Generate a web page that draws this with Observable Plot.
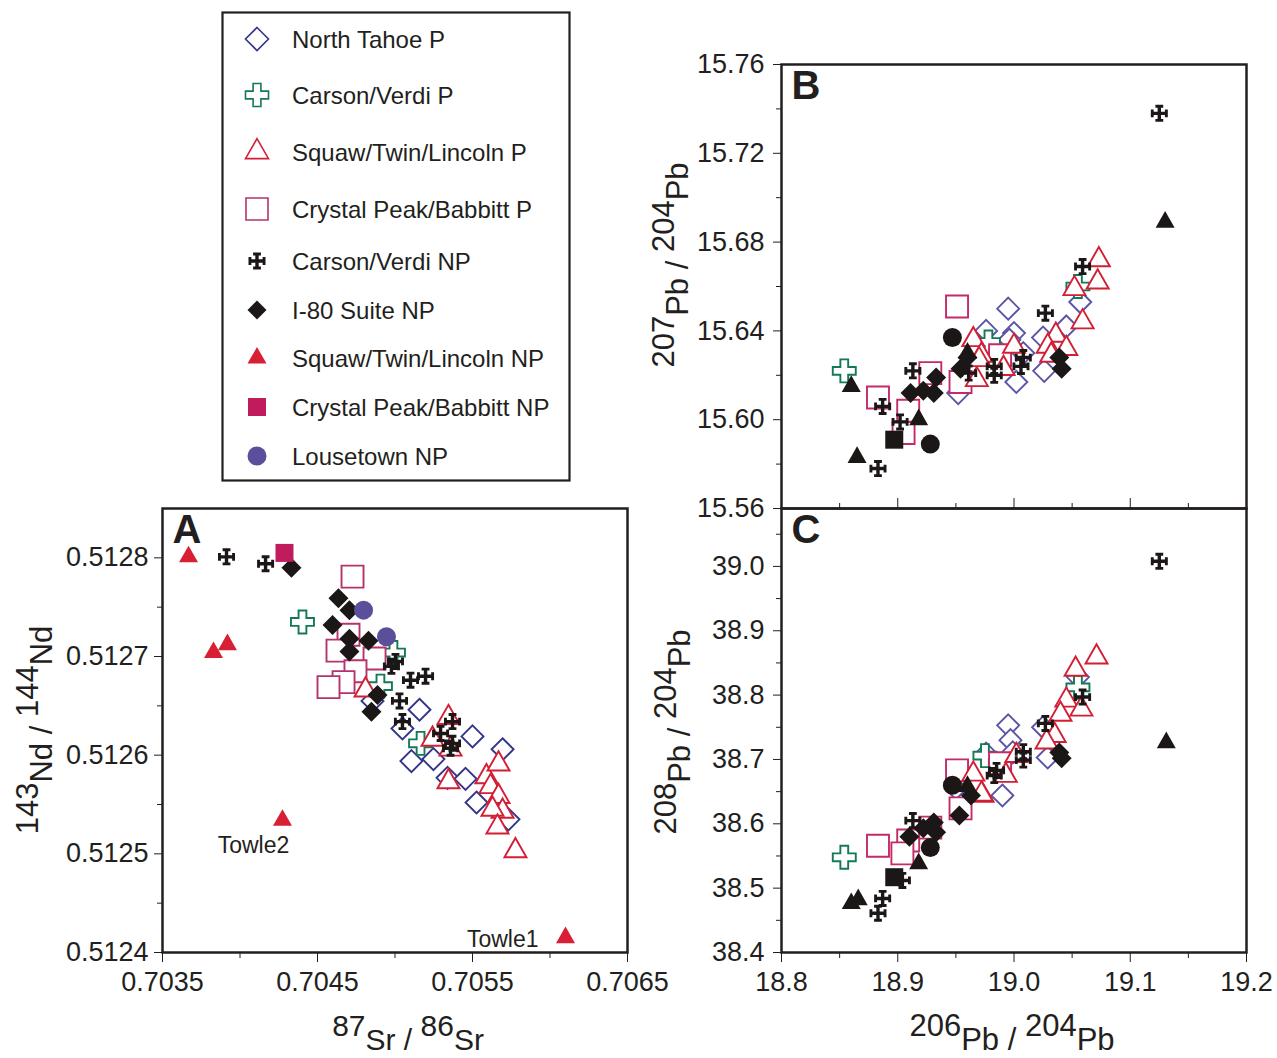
<!DOCTYPE html>
<html><head><meta charset="utf-8">
<script src="https://cdn.jsdelivr.net/npm/d3@7"></script>
<script src="https://cdn.jsdelivr.net/npm/@observablehq/plot@0.6"></script>
<style>
body{margin:0;background:#fff;}
#wrap{position:relative;width:1277px;height:1058px;font-family:"Liberation Sans",Arial,sans-serif;color:#231f20;}
#wrap svg{position:absolute;left:0;top:0;}
</style></head><body><div id="wrap"></div>
<script>
// ---------------- DATA ----------------
const seriesNames = ["North Tahoe P","Carson/Verdi P","Squaw/Twin/Lincoln P","Crystal Peak/Babbitt P","Carson/Verdi NP","I-80 Suite NP","Squaw/Twin/Lincoln NP","Crystal Peak/Babbitt NP","Lousetown NP"];

// Panel A: [87Sr/86Sr, 143Nd/144Nd]
const northTahoeP_A = [[0.704855,0.512655],[0.705158,0.512646],[0.705048,0.512627],[0.705106,0.512594],[0.705248,0.512596],[0.7055,0.512619],[0.705694,0.512606],[0.705339,0.512577],[0.705455,0.512576],[0.705526,0.512552],[0.705732,0.512535]];
const carsonVerdiP_A = [[0.704403,0.512735],[0.70499,0.512704],[0.704906,0.51267],[0.705165,0.512612]];
const squawP_A = [[0.70481,0.512666],[0.705345,0.512638],[0.705242,0.512616],[0.705358,0.512606],[0.705345,0.512573],[0.70559,0.512578],[0.705668,0.512591],[0.705616,0.512568],[0.705668,0.512558],[0.705694,0.512543],[0.705629,0.512545],[0.705661,0.512527],[0.705777,0.512503]];
const crystalPeakP_A = [[0.704726,0.512781],[0.7047,0.512722],[0.704629,0.512706],[0.704868,0.512698],[0.704745,0.512685],[0.704668,0.512674],[0.704571,0.512669]];
const carsonVerdiNP_A = [[0.703913,0.512801],[0.704165,0.512794],[0.705003,0.512695],[0.704977,0.51269],[0.7051,0.512676],[0.705197,0.51268],[0.705029,0.512655],[0.705048,0.512634],[0.705294,0.512622],[0.705371,0.512634],[0.705371,0.512612],[0.705358,0.512607]];
const i80NP_A = [[0.704332,0.51279],[0.704635,0.512759],[0.704706,0.512747],[0.704597,0.512732],[0.704706,0.512718],[0.704829,0.512716],[0.704706,0.512705],[0.704887,0.512661],[0.704848,0.512644]];
const squawNP_A = [[0.703668,0.512801],[0.703829,0.512704],[0.703919,0.512712],[0.704274,0.512534],[0.7061,0.512415]];
const crystalPeakNP_A = [[0.704287,0.512805]];
const lousetownNP_A = [[0.704797,0.512747],[0.704945,0.51272]];

// Panel B: [206Pb/204Pb, 207Pb/204Pb]
const northTahoeP_B = [[18.995,15.650],[18.976,15.640],[19.000,15.639],[18.996,15.636],[19.002,15.617],[19.025,15.637],[19.026,15.622],[19.057,15.653],[19.045,15.642],[18.952,15.612],[19.008,15.630]];
const carsonVerdiP_B = [[18.854,15.622],[18.978,15.635],[19.055,15.660]];
const squawP_B = [[18.965,15.636],[18.972,15.629],[18.968,15.618],[19.073,15.672],[19.072,15.662],[19.052,15.659],[19.059,15.644],[19.036,15.638],[19.029,15.633],[19.045,15.632],[19.032,15.629],[19.000,15.633],[18.991,15.623],[18.970,15.627]];
const crystalPeakP_B = [[18.883,15.610],[18.928,15.621],[18.909,15.604],[18.905,15.594],[18.951,15.651],[18.988,15.629],[18.954,15.617]];
const carsonVerdiNP_B = [[18.887,15.606],[18.913,15.622],[18.902,15.599],[18.883,15.578],[18.961,15.621],[18.983,15.624],[18.983,15.620],[19.006,15.624],[19.008,15.628],[19.027,15.648],[19.059,15.669],[19.125,15.738]];
const i80NP_B = [[18.911,15.612],[18.922,15.613],[18.931,15.612],[18.933,15.619],[18.960,15.628],[18.954,15.623],[19.039,15.628],[19.041,15.623]];
const squawNP_B = [[18.860,15.615],[18.865,15.583],[18.918,15.600],[18.960,15.630],[19.130,15.689]];
const crystalPeakNP_B = [[18.897,15.591]];
const lousetownNP_B = [[18.947,15.637],[18.928,15.589]];

// Panel C: [206Pb/204Pb, 208Pb/204Pb]
const northTahoeP_C = [[18.995,38.753],[18.997,38.730],[18.990,38.644],[18.976,38.709],[19.055,38.828],[19.025,38.750],[19.029,38.703],[18.999,38.711],[18.950,38.655]];
const carsonVerdiP_C = [[18.854,38.548],[18.975,38.706],[19.055,38.812]];
const squawP_C = [[18.965,38.677],[18.973,38.644],[19.071,38.859],[19.053,38.840],[19.045,38.792],[19.058,38.778],[19.040,38.770],[19.035,38.737],[19.028,38.727],[19.002,38.706],[18.993,38.675],[18.972,38.646]];
const crystalPeakP_C = [[18.883,38.566],[18.909,38.574],[18.904,38.554],[18.928,38.594],[18.951,38.683],[18.954,38.624],[18.988,38.694]];
const carsonVerdiNP_C = [[18.887,38.484],[18.913,38.605],[18.904,38.512],[18.883,38.461],[18.983,38.675],[18.985,38.683],[19.008,38.699],[19.008,38.712],[19.027,38.756],[19.059,38.797],[19.125,39.008]];
const i80NP_C = [[18.910,38.580],[18.922,38.593],[18.931,38.602],[18.933,38.587],[18.953,38.613],[18.963,38.644],[19.039,38.711],[19.041,38.702]];
const squawNP_C = [[18.860,38.476],[18.866,38.482],[18.918,38.538],[18.960,38.658],[19.131,38.726]];
const crystalPeakNP_C = [[18.897,38.517]];
const lousetownNP_C = [[18.928,38.563],[18.947,38.660]];

// tick values
const xTicksA = [0.7035,0.7045,0.7055,0.7065];
const xMinorA = [0.704,0.705,0.706];
const yTicksA = [0.5124,0.5125,0.5126,0.5127,0.5128];
const yMinorA = [0.51245,0.51255,0.51265,0.51275];
const xTicksPb = [18.8,18.9,19.0,19.1,19.2];
const xMinorPb = [18.85,18.95,19.05,19.15];
const yTicksB = [15.56,15.60,15.64,15.68,15.72,15.76];
const yMinorB = [15.58,15.62,15.66,15.70,15.74];
const yTicksC = [38.4,38.5,38.6,38.7,38.8,38.9,39.0];
const yMinorC = [38.45,38.55,38.65,38.75,38.85,38.95,39.05];

const towleNames = ["Towle2","Towle1"];
const towleIndex = [3,4]; // indices in squawNP_A

// ---------------- SYMBOLS ----------------
function sym(f){ return {draw(ctx,size){ f(ctx, Math.sqrt(size/Math.PI)); }}; }
const diamondSym = sym((c,r)=>{c.moveTo(0,-r);c.lineTo(r,0);c.lineTo(0,r);c.lineTo(-r,0);c.closePath();});
const squareSym = sym((c,r)=>{c.moveTo(-r,-r);c.lineTo(r,-r);c.lineTo(r,r);c.lineTo(-r,r);c.closePath();});
const triSym = sym((c,r)=>{c.moveTo(0,-1.17*r);c.lineTo(r,0.58*r);c.lineTo(-r,0.58*r);c.closePath();});
const circleSym = sym((c,r)=>{c.moveTo(r,0);c.arc(0,0,r,0,2*Math.PI);c.closePath();});
const plusSym = sym((c,r)=>{const a=r*0.34;
  c.moveTo(-a,-r);c.lineTo(a,-r);c.lineTo(a,-a);c.lineTo(r,-a);c.lineTo(r,a);c.lineTo(a,a);
  c.lineTo(a,r);c.lineTo(-a,r);c.lineTo(-a,a);c.lineTo(-r,a);c.lineTo(-r,-a);c.lineTo(-a,-a);c.closePath();});
function rectCW(c,x,y,w,h){c.moveTo(x,y);c.lineTo(x+w,y);c.lineTo(x+w,y+h);c.lineTo(x,y+h);c.closePath();}
const potentSym = sym((c,r)=>{const t=r*0.2,b=r*0.46,k=r*0.34;
  rectCW(c,-t,-r,2*t,2*r); rectCW(c,-r,-t,2*r,2*t);
  rectCW(c,-b,-r,2*b,k); rectCW(c,-b,r-k,2*b,k); rectCW(c,-r,-b,k,2*b); rectCW(c,r-k,-b,k,2*b);});

const BLACK = "#1c1717";
const seriesList = [
  {name:seriesNames[0], symbol:diamondSym, hollow:true,  colorA:"#34358a", colorBC:"#5a55a6", r:11, rl:11.5, A:northTahoeP_A, B:northTahoeP_B, C:northTahoeP_C},
  {name:seriesNames[1], symbol:plusSym,    hollow:true,  colorA:"#137a55", colorBC:"#137a55", r:11.5, rl:11.5, A:carsonVerdiP_A, B:carsonVerdiP_B, C:carsonVerdiP_C},
  {name:seriesNames[3], symbol:squareSym,  hollow:true,  colorA:"#b5336c", colorBC:"#c42a6a", r:11, rl:11, A:crystalPeakP_A, B:crystalPeakP_B, C:crystalPeakP_C},
  {name:seriesNames[2], symbol:triSym,     hollow:true,  colorA:"#d21f35", colorBC:"#d21f35", r:11, rl:11.5, A:squawP_A, B:squawP_B, C:squawP_C},
  {name:seriesNames[4], symbol:potentSym,  hollow:false, colorA:BLACK, colorBC:BLACK, r:8.5, rl:8.5, A:carsonVerdiNP_A, B:carsonVerdiNP_B, C:carsonVerdiNP_C},
  {name:seriesNames[5], symbol:diamondSym, hollow:false, colorA:BLACK, colorBC:BLACK, r:10, rl:9.5, A:i80NP_A, B:i80NP_B, C:i80NP_C},
  {name:seriesNames[6], symbol:triSym,     hollow:false, colorA:"#d81f34", colorBC:BLACK, r:9.5, rl:9.5, A:squawNP_A, B:squawNP_B, C:squawNP_C},
  {name:seriesNames[7], symbol:squareSym,  hollow:false, colorA:"#c01b5d", colorBC:BLACK, r:9, rl:9, A:crystalPeakNP_A, B:crystalPeakNP_B, C:crystalPeakNP_C},
  {name:seriesNames[8], symbol:circleSym,  hollow:false, colorA:"#5a4f9a", colorBC:BLACK, r:9.5, rl:9.5, A:lousetownNP_A, B:lousetownNP_B, C:lousetownNP_C}
];

const FONT = '"Liberation Sans", Arial, Helvetica, sans-serif';
const INK = "#231f20";

function dotMarks(key){
  return seriesList.map(s=>{
    const col = key==="A" ? s.colorA : s.colorBC;
    return Plot.dot(s[key], {x:d=>d[0], y:d=>d[1], symbol:s.symbol, r:s.r,
      fill: s.hollow ? "white" : col, stroke: s.hollow ? col : "none", strokeWidth: s.hollow ? 1.9 : 0});
  });
}

function panel(cfg){
  const marks = [...dotMarks(cfg.key)];
  marks.push(Plot.axisY(cfg.yTicks, {anchor:"left", tickFormat:cfg.yFmt, tickSize:8, tickPadding:cfg.yPad, fontSize:27, label:null, stroke:INK, fill:INK}));
  marks.push(Plot.axisY(cfg.yMinor, {anchor:"left", tickSize:5, label:null, stroke:INK, fill:"none"}));
  if (cfg.xLabels) {
    marks.push(Plot.axisX(cfg.xTicks, {anchor:"bottom", tickFormat:cfg.xFmt, tickSize:10, tickPadding:9, fontSize:27, label:null, stroke:INK, fill:INK}));
    marks.push(Plot.axisX(cfg.xMinor, {anchor:"bottom", tickSize:6, label:null, stroke:INK, fill:"none"}));
  }
  if (cfg.topTicks) {
    marks.push(Plot.axisX(cfg.xTicks, {anchor:"top", tickSize:11, label:null, stroke:INK, fill:"none"}));
    marks.push(Plot.axisX(cfg.xMinor, {anchor:"top", tickSize:6, label:null, stroke:INK, fill:"none"}));
  }
  if (cfg.extra) marks.push(...cfg.extra);
  marks.push(Plot.text([cfg.letter], {frameAnchor:"top-left", text:d=>d, dx:10, dy:6, lineAnchor:"top", textAnchor:"start", fontSize:40, fontWeight:"bold", fill:INK}));
  marks.push(Plot.frame({stroke:INK, strokeWidth:2.5}));
  const svg = Plot.plot({
    width:1277, height:1058,
    marginLeft:cfg.m[0], marginTop:cfg.m[1], marginRight:1277-cfg.m[2], marginBottom:1058-cfg.m[3],
    x:{domain:cfg.xDomain, axis: cfg.xLabels || cfg.topTicks ? undefined : null},
    y:{domain:cfg.yDomain},
    style:{background:"transparent", fontFamily:FONT, fontSize:"27px", color:INK, overflow:"visible"},
    marks
  });
  svg.style.position = "absolute"; svg.style.left = "0px"; svg.style.top = "0px";
  return svg;
}

const wrap = document.getElementById("wrap");

const towleData = towleIndex.map((k,i)=>({x:squawNP_A[k][0], y:squawNP_A[k][1], label:towleNames[i]}));

wrap.appendChild(panel({key:"A", m:[162,508,627,952], xDomain:[0.7035,0.7065], yDomain:[0.5124,0.51285],
  xTicks:xTicksA, xMinor:xMinorA, yTicks:yTicksA, yMinor:yMinorA, xFmt:d3.format(".4f"), yFmt:d3.format(".4f"), yPad:6, xLabels:true, letter:"A",
  extra:[
    Plot.text(towleData.slice(0,1), {x:"x", y:"y", text:"label", dx:-29, dy:25, fontSize:23, fill:INK}),
    Plot.text(towleData.slice(1,2), {x:"x", y:"y", text:"label", dx:-27, dy:2, textAnchor:"end", fontSize:23, fill:INK})
  ]}));

wrap.appendChild(panel({key:"B", m:[781,64,1246,508], xDomain:[18.8,19.2], yDomain:[15.56,15.76],
  xTicks:xTicksPb, xMinor:xMinorPb, yTicks:yTicksB, yMinor:yMinorB, xFmt:d3.format(".1f"), yFmt:d3.format(".2f"), yPad:9, xLabels:false, letter:"B"}));

wrap.appendChild(panel({key:"C", m:[781,508,1246,952], xDomain:[18.8,19.2], yDomain:[38.4,39.09],
  xTicks:xTicksPb, xMinor:xMinorPb, yTicks:yTicksC, yMinor:yMinorC, xFmt:d3.format(".1f"), yFmt:d3.format(".1f"), yPad:9, xLabels:true, topTicks:true, letter:"C"}));

// ---------------- AXIS TITLES ----------------
const over = d3.select(wrap).append("svg").attr("width",1277).attr("height",1058).style("position","absolute").style("left","0px").style("top","0px").style("overflow","visible");
function isoTitle(x, y, rotate, iso, size){
  const t = over.append("text").attr("transform", `translate(${x},${y})` + (rotate ? " rotate(-90)" : ""))
    .attr("text-anchor","middle").attr("font-family",FONT).attr("font-size",size).attr("fill",INK);
  const shift = Math.round(size*0.45);
  t.append("tspan").text(iso[0][0]);
  t.append("tspan").attr("dy",shift).text(iso[0][1] + " / ");
  t.append("tspan").attr("dy",-shift).text(iso[1][0]);
  t.append("tspan").attr("dy",shift).text(iso[1][1]);
}
isoTitle(408, 1036, false, [["87","Sr"],["86","Sr"]], 30);
isoTitle(1012, 1036, false, [["206","Pb"],["204","Pb"]], 31);
isoTitle(38, 730, true, [["143","Nd"],["144","Nd"]], 31);
isoTitle(674, 265, true, [["207","Pb"],["204","Pb"]], 31);
isoTitle(676, 732, true, [["208","Pb"],["204","Pb"]], 31);

// ---------------- LEGEND ----------------
const legendRowY = [27,83,140,197,249,298,346,395,444];
const legendOrder = [0,1,3,2,4,5,6,7,8]; // indices into seriesList following seriesNames order
const leg = d3.select(wrap).append("svg").attr("width",350).attr("height",471)
  .style("position","absolute").style("left","221px").style("top","11px");
leg.append("rect").attr("x",1.5).attr("y",1.5).attr("width",347).attr("height",468).attr("fill","white").attr("stroke",INK).attr("stroke-width",2.2);
legendOrder.forEach((si,row)=>{
  const s = seriesList[si];
  const y = legendRowY[row]+1;
  const p = d3.path(); s.symbol.draw(p, s.rl*s.rl*Math.PI);
  leg.append("path").attr("d", p.toString()).attr("transform",`translate(36,${y})`)
    .attr("fill", s.hollow ? "white" : s.colorA).attr("stroke", s.hollow ? s.colorA : "none").attr("stroke-width", s.hollow ? 1.6 : 0);
  leg.append("text").attr("x",71).attr("y",y).attr("dy","0.36em").attr("font-family",FONT).attr("font-size",24).attr("fill",INK).text(s.name);
});
</script></body></html>
